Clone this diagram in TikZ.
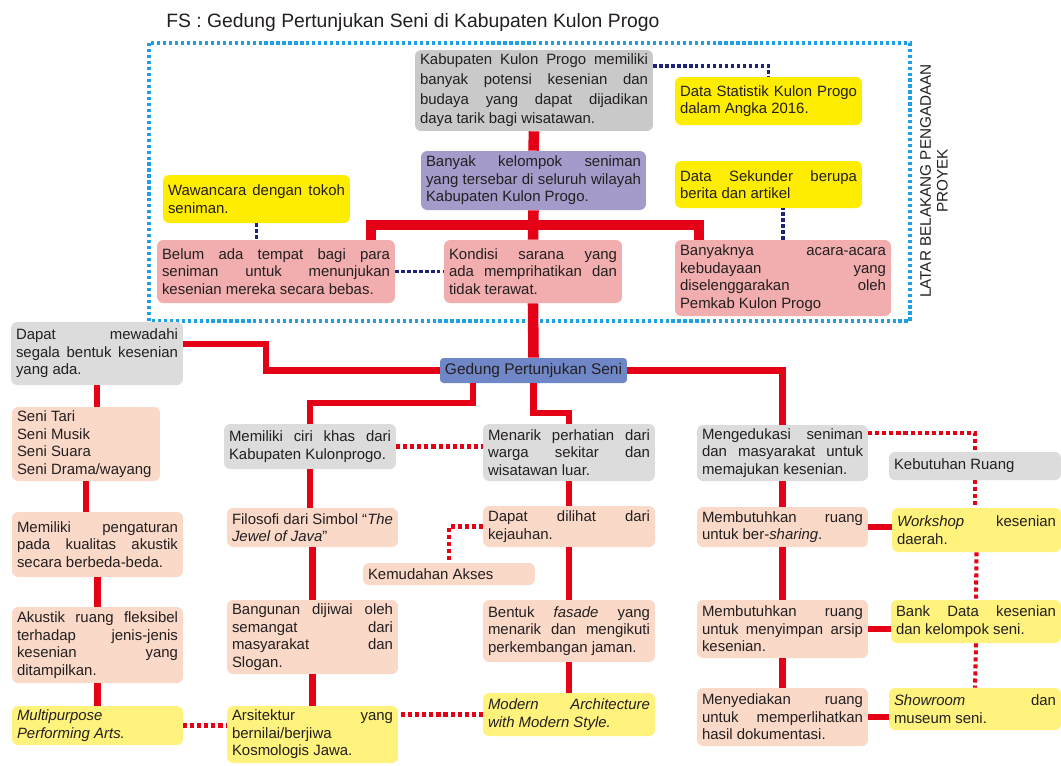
\documentclass[tikz,border=0pt]{standalone}
\usepackage{fontspec}
\setmainfont{Liberation Sans}
\definecolor{merah}{RGB}{228,0,21}
\definecolor{abutua}{RGB}{201,201,201}
\definecolor{abu}{RGB}{220,220,220}
\definecolor{ungu}{RGB}{164,155,203}
\definecolor{kuning}{RGB}{255,237,0}
\definecolor{kuningmuda}{RGB}{255,242,125}
\definecolor{merahmuda}{RGB}{242,174,174}
\definecolor{krem}{RGB}{250,217,200}
\definecolor{biru}{RGB}{111,135,199}
\definecolor{birutua}{RGB}{30,35,125}
\definecolor{birumuda}{RGB}{30,160,230}
\definecolor{teks}{RGB}{35,31,32}
\pretolerance=10000
\tolerance=10000
\hbadness=10000

\begin{document}
\begin{tikzpicture}[x=0.02cm,y=-0.02cm,
	kotak/.style={fill=#1, rounded corners=3.5pt, inner xsep=0.1cm, inner ysep=1pt, align=justify, text=teks,
		font=\fontsize{8.5}{10}\selectfont},
	garis/.style={draw=merah, line width=3.5pt},
	garistebal/.style={draw=merah, line width=6pt},
	titikmerah/.style={draw=merah, line width=2.3pt, dash pattern=on 2.3pt off 1.7pt},
	titikbiru/.style={draw=birutua, line width=1.9pt, dash pattern=on 1.9pt off 1.5pt},
	bingkai/.style={draw=birumuda, line width=1.8pt, dash pattern=on 1.8pt off 1.6pt}]
	\fill[white] (0,0) rectangle (1061,765);
	\useasboundingbox (0,0) rectangle (1061,765);
	%judul
	\node[anchor=base west, inner sep=0, text=teks, font=\fontsize{11}{13}\selectfont] (judul) at (166,27) {FS : Gedung Pertunjukan Seni di Kabupaten Kulon Progo};
	%bingkai latar belakang
	\draw[bingkai] (149,43) rectangle (910,321);
	\node[rotate=90, align=center, text=teks, font=\fontsize{8.7}{9.5}\selectfont] (latar) at (934,181) {LATAR BELAKANG PENGADAAN\\PROYEK};
	%kotak latar belakang
	\node[kotak=abutua, text width=4.56cm, minimum height=1.62cm, font=\fontsize{8.5}{11.2}\selectfont] (atas) at (534,90.5) {Kabupaten Kulon Progo memiliki\linebreak banyak potensi kesenian dan\linebreak budaya yang dapat dijadikan\linebreak daya tarik bagi wisatawan.};
	\node[kotak=kuning, text width=3.54cm, minimum height=0.96cm] (statistik) at (768.5,101) {Data Statistik Kulon Progo\linebreak dalam Angka 2016.};
	\node[kotak=ungu, text width=4.3cm, minimum height=1.18cm] (kelompok) at (533.5,180.5) {Banyak kelompok seniman\linebreak yang tersebar di seluruh wilayah\linebreak Kabupaten Kulon Progo.};
	\node[kotak=kuning, text width=3.54cm, minimum height=0.94cm] (sekunder) at (768.5,184.5) {Data Sekunder berupa\linebreak berita dan artikel};
	\node[kotak=kuning, text width=3.54cm, minimum height=0.96cm] (wawancara) at (256.5,199) {Wawancara dengan tokoh\linebreak seniman.};
	\node[kotak=merahmuda, text width=4.56cm, minimum height=1.26cm] (belum) at (276,271.5) {Belum ada tempat bagi para\linebreak seniman untuk menunjukan\linebreak kesenian mereka secara bebas.};
	\node[kotak=merahmuda, text width=3.36cm, minimum height=1.26cm] (kondisi) at (533,271.5) {Kondisi sarana yang\linebreak ada memprihatikan dan\linebreak tidak terawat.};
	\node[kotak=merahmuda, text width=4.12cm, minimum height=1.52cm] (acara) at (783,278) {Banyaknya acara-acara\linebreak kebudayaan yang\linebreak diselenggarakan oleh\linebreak Pemkab Kulon Progo};
	%gedung
	\node[fill=biru, rounded corners=2pt, minimum width=3.74cm, minimum height=0.5cm, inner sep=1pt, text=teks, font=\fontsize{8.8}{10}\selectfont] (gedung) at (533.5,370.5) {Gedung Pertunjukan Seni};
	%kolom kiri
	\node[kotak=abu, text width=3.24cm, minimum height=1.26cm] (mewadahi) at (97,353.5) {Dapat mewadahi\linebreak segala bentuk kesenian\linebreak yang ada.};
	\node[kotak=krem, text width=2.76cm, minimum height=1.48cm] (seni) at (86,444) {Seni Tari\\Seni Musik\\Seni Suara\\Seni Drama/wayang};
	\node[kotak=krem, text width=3.22cm, minimum height=1.3cm] (pengaturan) at (97.5,544.5) {Memiliki pengaturan\linebreak pada kualitas akustik\linebreak secara berbeda-beda.};
	\node[kotak=krem, text width=3.22cm, minimum height=1.52cm] (akustik) at (97.5,645) {Akustik ruang fleksibel\linebreak terhadap jenis-jenis\linebreak kesenian yang\linebreak ditampilkan.};
	\node[kotak=kuningmuda, text width=3.22cm, minimum height=0.78cm] (multi) at (97.5,725.5) {\textit{Multipurpose}\linebreak \textit{Performing Arts.}};
	%kolom tengah
	\node[kotak=abu, text width=3.24cm, minimum height=0.9cm] (ciri) at (310,446.5) {Memiliki ciri khas dari\linebreak Kabupaten Kulonprogo.};
	\node[kotak=abu, text width=3.24cm, minimum height=1.14cm] (menarik) at (569,452.5) {Menarik perhatian dari\linebreak warga sekitar dan\linebreak wisatawan luar.};
	\node[kotak=krem, text width=3.22cm, minimum height=0.78cm] (filosofi) at (312.5,527.5) {Filosofi dari Simbol “\textit{The}\linebreak \textit{Jewel of Java}”};
	\node[kotak=krem, text width=3.24cm, minimum height=0.82cm] (dilihat) at (569,526.5) {Dapat dilihat dari\linebreak kejauhan.};
	\node[kotak=krem, text width=3.24cm, minimum height=0.44cm] (akses) at (449,574) {Kemudahan Akses};
	\node[kotak=krem, text width=3.22cm, minimum height=1.48cm] (bangunan) at (312.5,637) {Bangunan dijiwai oleh\linebreak semangat dari\linebreak masyarakat dan\linebreak Slogan.};
	\node[kotak=krem, text width=3.24cm, minimum height=1.24cm] (fasade) at (569,631) {Bentuk \textit{fasade} yang\linebreak menarik dan mengikuti\linebreak perkembangan jaman.};
	\node[kotak=kuningmuda, text width=3.22cm, minimum height=1.14cm] (arsitektur) at (312.5,734.5) {Arsitektur yang\linebreak bernilai/berjiwa\linebreak Kosmologis Jawa.};
	\node[kotak=kuningmuda, text width=3.24cm, minimum height=0.86cm] (modern) at (569,714.5) {\textit{Modern Architecture}\linebreak \textit{with Modern Style.}};
	%kolom kanan
	\node[kotak=abu, text width=3.22cm, minimum height=1.12cm] (edukasi) at (782.5,453) {Mengedukasi seniman\linebreak dan masyarakat untuk\linebreak memajukan kesenian.};
	\node[kotak=abu, text width=3.24cm, minimum height=0.56cm] (kebutuhan) at (975,466) {Kebutuhan Ruang};
	\node[kotak=krem, text width=3.22cm, minimum height=0.8cm] (sharing) at (782.5,527) {Membutuhkan ruang\linebreak untuk ber-\textit{sharing}.};
	\node[kotak=kuningmuda, text width=3.18cm, minimum height=0.88cm] (workshop) at (976.5,530) {\textit{Workshop} kesenian\linebreak daerah.};
	\node[kotak=krem, text width=3.22cm, minimum height=1.16cm] (arsip) at (782.5,629) {Membutuhkan ruang\linebreak untuk menyimpan arsip\linebreak kesenian.};
	\node[kotak=kuningmuda, text width=3.2cm, minimum height=0.86cm] (bank) at (976,621.5) {Bank Data kesenian\linebreak dan kelompok seni.};
	\node[kotak=krem, text width=3.22cm, minimum height=1.16cm] (sediakan) at (782.5,717) {Menyediakan ruang\linebreak untuk memperlihatkan\linebreak hasil dokumentasi.};
	\node[kotak=kuningmuda, text width=3.24cm, minimum height=0.84cm] (showroom) at (975,709) {\textit{Showroom} dan\linebreak museum seni.};
	%garis merah atas
	\coordinate (bl) at (371,225);
	\coordinate (br) at (699,225);
	\draw[garistebal] (atas.south) -- (kelompok.north);
	\draw[garistebal] (kelompok.south) -- (kondisi.north);
	\draw[garistebal] (bl |- belum.north) -- (bl) -- (br) -- (br |- acara.north);
	\draw[garistebal] (kondisi.south) -- (gedung.north);
	%garis titik biru
	\coordinate (tr) at (768,66);
	\draw[titikbiru] (atas.east |- tr) -| (statistik.north);
	\draw[titikbiru] (wawancara.south) -- (wawancara.south |- belum.north);
	\draw[titikbiru] (belum.east) -- (kondisi.west);
	\draw[titikbiru] (acara.north) -- (acara.north |- sekunder.south);
	%cabang gedung
	\coordinate (kl) at (266,344);
	\coordinate (ga) at (473,403);
	\coordinate (gb) at (533.5,413);
	\draw[garis] (mewadahi.east |- kl) -- (kl) |- (gedung.west);
	\draw[garis] (gedung.east) -| (edukasi.north);
	\draw[garis] (ga |- gedung.south) -- (ga) -| (ciri.north);
	\draw[garis] (gedung.south) -- (gb) -| (menarik.north);
	%kiri
	\draw[garis] (mewadahi.south) -- (mewadahi.south |- seni.north);
	\draw[garis] (seni.south) -- (seni.south |- pengaturan.north);
	\draw[garis] (pengaturan.south) -- (akustik.north);
	\draw[garis] (akustik.south) -- (multi.north);
	%tengah
	\draw[garis] (ciri.south) -- (ciri.south |- filosofi.north);
	\draw[garis] (filosofi.south) -- (bangunan.north);
	\draw[garis] (bangunan.south) -- (arsitektur.north);
	\draw[garis] (menarik.south) -- (dilihat.north);
	\draw[garis] (dilihat.south) -- (fasade.north);
	\draw[garis] (fasade.south) -- (modern.north);
	%kanan
	\draw[garis] (edukasi.south) -- (sharing.north);
	\draw[garis] (sharing.south) -- (arsip.north);
	\draw[garis] (arsip.south) -- (sediakan.north);
	\draw[garis] (sharing.east) -- (sharing.east -| workshop.west);
	\draw[garis] (arsip.east) -- (arsip.east -| bank.west);
	\draw[garis] (sediakan.east) -- (sediakan.east -| showroom.west);
	%garis titik merah
	\coordinate (er) at (970,433);
	\draw[titikmerah] (ciri.east) -- (ciri.east -| menarik.west);
	\draw[titikmerah] (dilihat.west) -| (akses.north);
	\draw[titikmerah] (multi.east) -- (multi.east -| arsitektur.west);
	\draw[titikmerah] (modern.west) -- (modern.west -| arsitektur.east);
	\draw[titikmerah] (edukasi.east |- er) -| (kebutuhan.north);
	\draw[titikmerah] (kebutuhan.south) -- (kebutuhan.south |- workshop.north);
	\draw[titikmerah] (workshop.south) -- (bank.north);
	\draw[titikmerah] (bank.south) -- (showroom.north);
\end{tikzpicture}
\end{document}
